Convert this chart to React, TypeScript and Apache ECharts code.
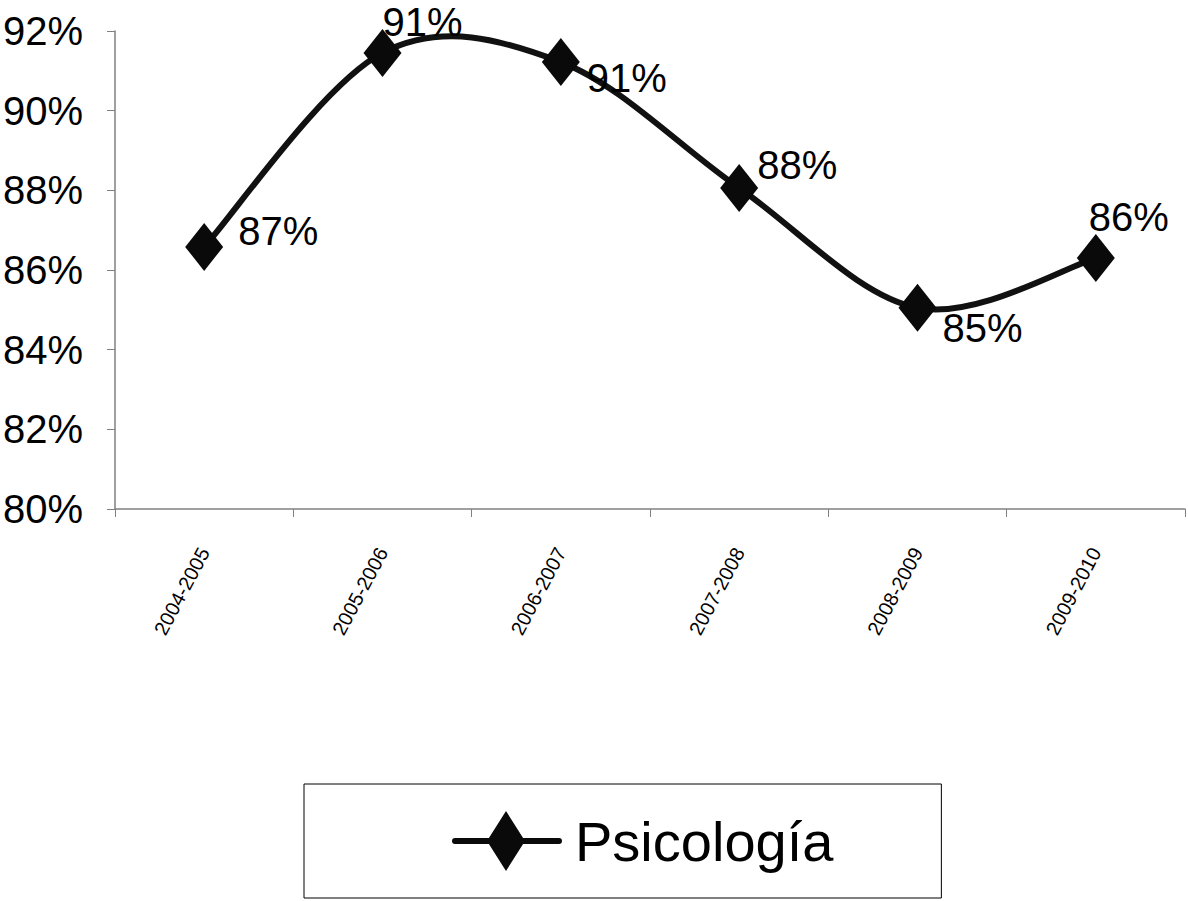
import React, { useEffect, useRef } from "react";
import * as echarts from "echarts";

const categories = ["2004-2005", "2005-2006", "2006-2007", "2007-2008", "2008-2009", "2009-2010"];
const values = [86.58, 91.45, 91.22, 88.06, 85.05, 86.3];
const labelOffsets = [
  [74, -16],
  [40, -31],
  [66, 16],
  [58, -23],
  [65, 20],
  [33, -41],
];
const seriesName = "Psicología";

const FONT = '"Liberation Sans", Arial, sans-serif';

export default function App() {
  const ref = useRef<HTMLDivElement>(null);
  useEffect(() => {
    if (!ref.current) return;
    const chart = echarts.init(ref.current, null, { renderer: "svg" });
    chart.setOption({
      animation: false,
      backgroundColor: "#fff",
      grid: { left: 115, top: 31, right: 3, bottom: 392, outerBoundsMode: "none", containLabel: false },
      xAxis: {
        type: "category",
        data: categories,
        boundaryGap: true,
        axisLine: { lineStyle: { color: "#808080", width: 1.5 } },
        axisTick: { show: true, length: 8, lineStyle: { color: "#808080" } },
        axisLabel: { rotate: 62, margin: 40, fontSize: 20, color: "#000", fontFamily: FONT },
      },
      yAxis: {
        type: "value",
        min: 80,
        max: 92,
        interval: 2,
        axisLine: { show: true, lineStyle: { color: "#808080", width: 1.5 } },
        axisTick: { show: true, length: 8, lineStyle: { color: "#808080" } },
        splitLine: { show: false },
        axisLabel: {
          formatter: "{value}%",
          fontSize: 40,
          color: "#000",
          fontFamily: FONT,
          margin: 32,
        },
      },
      legend: {
        show: true,
        data: [seriesName],
        left: 304,
        top: 784,
        borderColor: "#000",
        borderWidth: 1,
        padding: [27, 108, 27, 148],
        itemWidth: 110,
        itemHeight: 60,
        icon: "path://M3,27 L107,27 Q110,27 110,30 Q110,33 107,33 L3,33 Q0,33 0,30 Q0,27 3,27 Z M54,0 L73,30 L54,60 L35,30 Z",
        itemStyle: { color: "#0a0a0a" },
        textStyle: { fontSize: 56, color: "#000", fontFamily: FONT, padding: [0, 0, 0, 8] },
      },
      series: [
        {
          name: "curve",
          type: "custom",
          silent: true,
          clip: false,
          z: 1,
          data: [[0, values[0]]],
          renderItem: (params: any, api: any) => {
            if (params.dataIndex !== 0) return null;
            const pts = values.map((v, i) => api.coord([i, v]));
            const n = pts.length;
            let d = `M${pts[0][0]},${pts[0][1]}`;
            for (let i = 0; i < n - 1; i++) {
              const p0 = pts[Math.max(i - 1, 0)];
              const p1 = pts[i];
              const p2 = pts[i + 1];
              const p3 = pts[Math.min(i + 2, n - 1)];
              const c1x = p1[0] + (p2[0] - p0[0]) / 6;
              const c1y = p1[1] + (p2[1] - p0[1]) / 6;
              const c2x = p2[0] - (p3[0] - p1[0]) / 6;
              const c2y = p2[1] - (p3[1] - p1[1]) / 6;
              d += ` C${c1x},${c1y} ${c2x},${c2y} ${p2[0]},${p2[1]}`;
            }
            return {
              type: "path",
              shape: { pathData: d },
              style: { fill: "none", stroke: "#111", lineWidth: 6, lineCap: "round", lineJoin: "round" },
            };
          },
        },
        {
          name: seriesName,
          type: "line",
          z: 3,
          data: values.map((v, i) => ({
            value: v,
            label: { offset: labelOffsets[i] },
          })),
          symbol: "diamond",
          symbolSize: [38, 48],
          lineStyle: { color: "#111", width: 6, opacity: 0 },
          itemStyle: { color: "#0a0a0a" },
          label: {
            show: true,
            position: "inside",
            color: "#000",
            fontSize: 40,
            fontFamily: FONT,
            formatter: (p: any) => Math.round(p.value) + "%",
          },
        },
      ],
    });
    return () => chart.dispose();
  }, []);
  return (
    <div
      ref={ref}
      style={{ position: "absolute", left: 0, top: 0, width: 1188, height: 901 }}
    />
  );
}
